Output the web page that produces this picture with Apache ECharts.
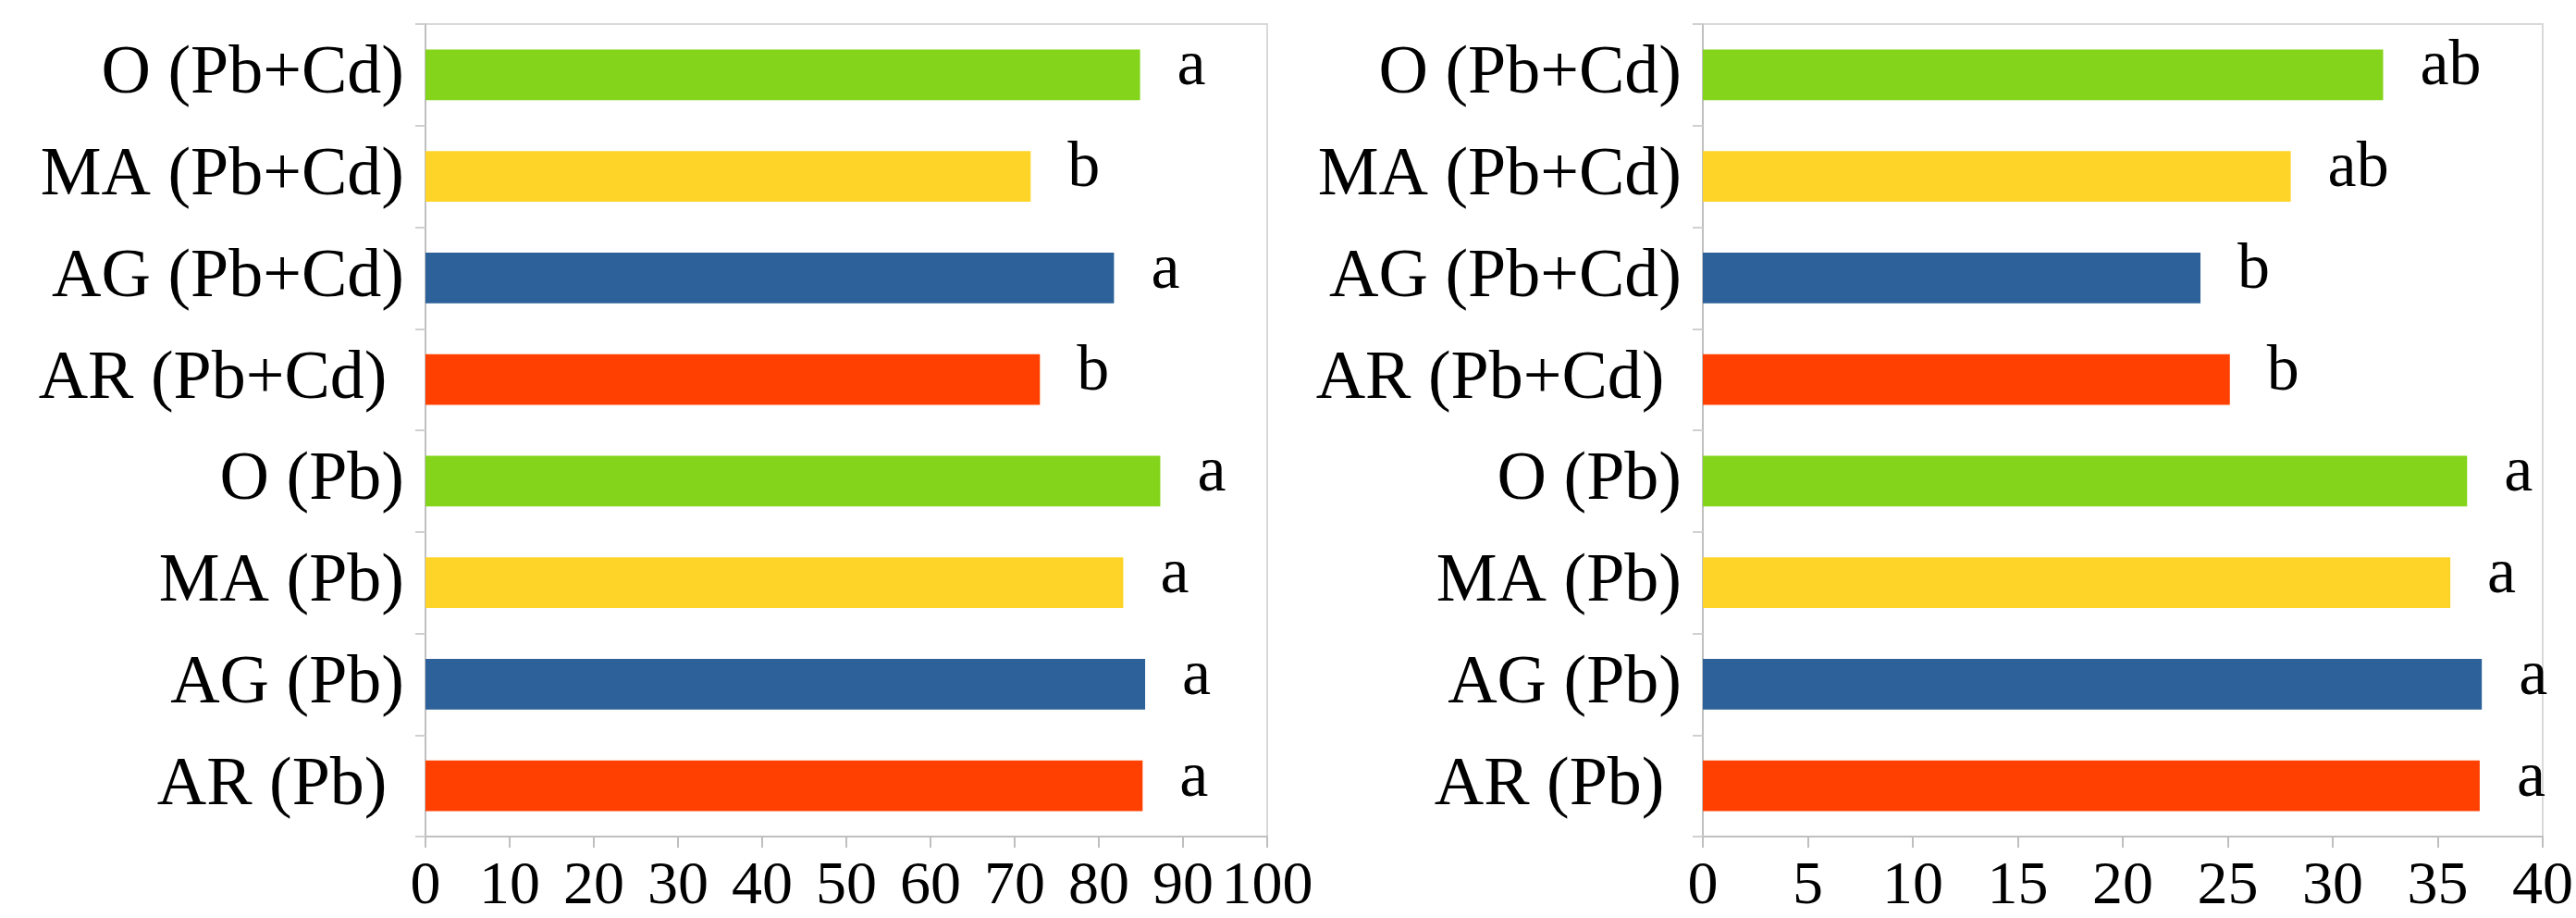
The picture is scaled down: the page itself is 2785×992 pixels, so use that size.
<!DOCTYPE html>
<html>
<head>
<meta charset="utf-8">
<script src="https://cdn.jsdelivr.net/npm/echarts@6/dist/echarts.min.js"></script>
<style>
html,body{margin:0;padding:0;background:#fff;}
#c{width:2785px;height:992px;}
</style>
</head>
<body>
<div id="c"></div>
<script>
// Categories, bottom to top (as the value axis is horizontal)
const categories = ['AR (Pb) ', 'AG (Pb)', 'MA (Pb)', 'O (Pb)', 'AR (Pb+Cd) ', 'AG (Pb+Cd)', 'MA (Pb+Cd)', 'O (Pb+Cd)'];
const leftValues = [85.2, 85.5, 82.9, 87.3, 73.0, 81.8, 71.9, 84.9];
const leftLetters = ['a', 'a', 'a', 'a', 'b', 'a', 'b', 'a'];
const rightValues = [37.0, 37.1, 35.6, 36.4, 25.1, 23.7, 28.0, 32.4];
const rightLetters = ['a', 'a', 'a', 'a', 'b', 'b', 'ab', 'ab'];
const leftTicks = [0, 100, 10];   // min, max, interval
const rightTicks = [0, 40, 5];
const barColors = ['#FF4000', '#2C6199', '#FED428', '#83D41B', '#FF4000', '#2C6199', '#FED428', '#83D41B'];

const FONT = '"Liberation Serif", "Times New Roman", serif';
const gray = '#bfbfbf';

function mkData(vals, letters) {
  return vals.map((v, i) => ({ value: v, letter: letters[i], itemStyle: { color: barColors[i] } }));
}

function xAxis(idx, t) {
  return {
    type: 'value', gridIndex: idx, min: t[0], max: t[1], interval: t[2],
    axisLine: { show: true, lineStyle: { color: gray, width: 2 } },
    axisTick: { show: true, length: 12, lineStyle: { color: gray, width: 2 } },
    splitLine: { show: false },
    axisLabel: { fontFamily: FONT, fontSize: 66, color: '#000', margin: 22 }
  };
}
function yAxis(idx) {
  return {
    type: 'category', gridIndex: idx, data: categories,
    axisLine: { show: true, lineStyle: { color: gray, width: 2 } },
    axisTick: { show: true, length: 11, lineStyle: { color: '#d0d0d0', width: 2 } },
    axisLabel: { fontFamily: FONT, fontSize: 74, color: '#000', margin: 23 }
  };
}
function series(idx, vals, letters) {
  return {
    type: 'bar', xAxisIndex: idx, yAxisIndex: idx,
    data: mkData(vals, letters), barCategoryGap: '50%',
    label: {
      show: true, position: 'right', distance: 40, offset: [0, -8],
      fontFamily: FONT, fontSize: 70, color: '#000',
      formatter: p => p.data.letter
    }
  };
}

const chart = echarts.init(document.getElementById('c'), null, { renderer: 'canvas' });
chart.setOption({
  backgroundColor: '#fff',
  animation: false,
  grid: [
    { left: 460, right: 1415, top: 26, bottom: 87, show: true, borderColor: '#d9d9d9', borderWidth: 2 },
    { left: 1841, right: 32, top: 26, bottom: 87, show: true, borderColor: '#d9d9d9', borderWidth: 2 }
  ],
  xAxis: [xAxis(0, leftTicks), xAxis(1, rightTicks)],
  yAxis: [yAxis(0), yAxis(1)],
  series: [series(0, leftValues, leftLetters), series(1, rightValues, rightLetters)]
});
</script>
</body>
</html>
